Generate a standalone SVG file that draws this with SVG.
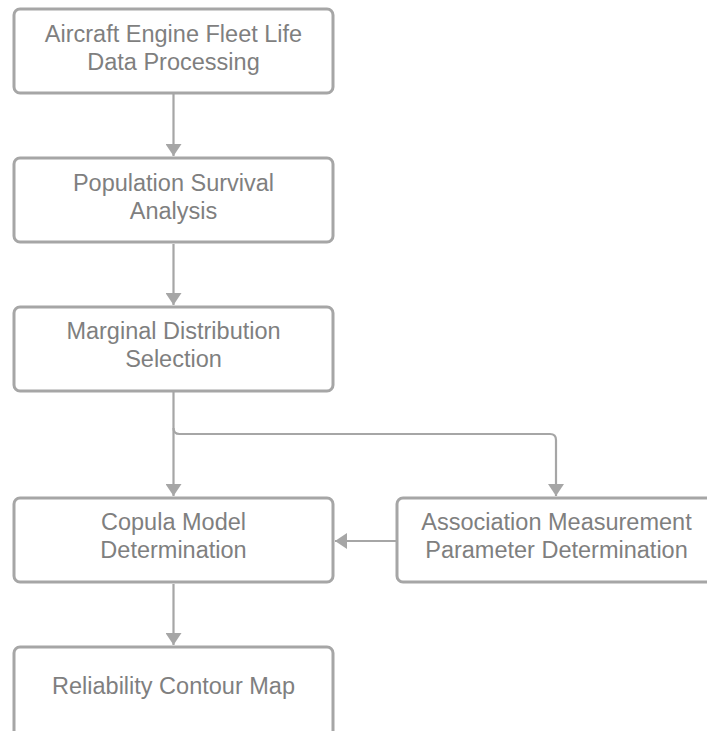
<svg xmlns="http://www.w3.org/2000/svg" width="707" height="731" viewBox="0 0 707 731">
<defs>
<style>
.box{fill:#ffffff;stroke:#a6a6a6;stroke-width:3}
.t{font-family:"Liberation Sans",Arial,sans-serif;font-size:23.5px;fill:#7f7f7f;text-anchor:middle}
.c{fill:none;stroke:#a6a6a6;stroke-width:2.2}
</style>
<marker id="ah" viewBox="0 0 12 16" refX="12" refY="8" markerWidth="12" markerHeight="16" markerUnits="userSpaceOnUse" orient="auto">
<path d="M0,0 L12,8 L0,16 Z" fill="#a6a6a6"/>
</marker>
</defs>
<rect width="707" height="731" fill="#ffffff"/>
<g id="connectors">
<path class="c" d="M173.5,94 V156" marker-end="url(#ah)"/>
<path class="c" d="M173.5,244 V305" marker-end="url(#ah)"/>
<path class="c" d="M173.5,392 V496" marker-end="url(#ah)"/>
<path class="c" d="M173.5,428 Q173.5,434 179.5,434 H550 Q556,434 556,440 V496" marker-end="url(#ah)"/>
<path class="c" d="M396,541 H335" marker-end="url(#ah)"/>
<path class="c" d="M173.5,584 V645" marker-end="url(#ah)"/>
</g>
<g id="n1">
<rect class="box" x="14" y="9" width="319" height="84" rx="6"/>
<text class="t" x="173.5" y="42">Aircraft Engine Fleet Life</text>
<text class="t" x="173.5" y="70">Data Processing</text>
</g>
<g id="n2">
<rect class="box" x="14" y="158" width="319" height="84" rx="6"/>
<text class="t" x="173.5" y="191">Population Survival</text>
<text class="t" x="173.5" y="219">Analysis</text>
</g>
<g id="n3">
<rect class="box" x="14" y="307" width="319" height="84" rx="6"/>
<text class="t" x="173.5" y="339">Marginal Distribution</text>
<text class="t" x="173.5" y="367">Selection</text>
</g>
<g id="n4">
<rect class="box" x="14" y="498" width="319" height="84" rx="6"/>
<text class="t" x="173.5" y="530">Copula Model</text>
<text class="t" x="173.5" y="558">Determination</text>
</g>
<g id="n5">
<rect class="box" x="397" y="498" width="319" height="84" rx="6"/>
<text class="t" x="556.5" y="530">Association Measurement</text>
<text class="t" x="556.5" y="558">Parameter Determination</text>
</g>
<g id="n6">
<rect class="box" x="14" y="647" width="319" height="90" rx="6"/>
<text class="t" x="173.5" y="694">Reliability Contour Map</text>
</g>
</svg>
